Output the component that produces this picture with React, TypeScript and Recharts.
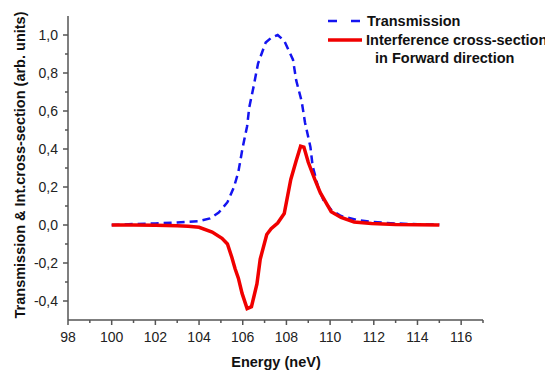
import React from "react";
import { LineChart, Line, XAxis, YAxis } from "recharts";

// energy (neV) / value pairs
const transEnergy = [100, 101, 102, 103, 104, 104.5, 104.9, 105.3, 105.6, 105.8, 106.0, 106.2, 106.3, 106.5, 106.7, 107.05, 107.3, 107.6, 107.9, 108.3, 108.45, 108.7, 108.85, 109.1, 109.2, 109.45, 109.7, 110.05, 110.5, 111.3, 111.9, 113, 114, 115];
const transValue = [0, 0.005, 0.008, 0.013, 0.02, 0.035, 0.065, 0.12, 0.2, 0.28, 0.41, 0.52, 0.62, 0.73, 0.85, 0.96, 0.985, 1.0, 0.97, 0.87, 0.76, 0.65, 0.54, 0.41, 0.31, 0.2, 0.13, 0.08, 0.047, 0.025, 0.016, 0.008, 0.004, 0.002];

const interEnergy = [100, 101, 102, 103, 103.5, 104, 104.6, 105.05, 105.3, 105.5, 105.65, 105.8, 105.97, 106.2, 106.4, 106.65, 106.8, 107.1, 107.3, 107.6, 107.9, 108.2, 108.45, 108.65, 108.8, 109.0, 109.3, 109.55, 110.05, 110.5, 111.1, 111.9, 113, 114, 115];
const interValue = [0, 0, -0.001, -0.004, -0.007, -0.012, -0.037, -0.07, -0.1, -0.17, -0.23, -0.28, -0.36, -0.44, -0.43, -0.31, -0.18, -0.05, -0.02, 0.01, 0.06, 0.24, 0.34, 0.415, 0.41, 0.33, 0.24, 0.17, 0.07, 0.04, 0.016, 0.008, 0.003, 0.001, 0];

const xTicks = [98, 99, 100, 101, 102, 103, 104, 105, 106, 107, 108, 109, 110, 111, 112, 113, 114, 115, 116, 117];
const yTicks = [-0.4, -0.3, -0.2, -0.1, 0, 0.1, 0.2, 0.3, 0.4, 0.5, 0.6, 0.7, 0.8, 0.9, 1.0];

const transData = transEnergy.map((e, i) => ({ e, v: transValue[i] }));
const interData = interEnergy.map((e, i) => ({ e, v: interValue[i] }));

const FONT = "'Liberation Sans', Arial, sans-serif";
const AXIS = "#555";

const XTick = (props: any) => {
  const { x, y, payload } = props;
  const major = payload.value % 2 === 0;
  return (
    <g>
      <line x1={x} x2={x} y1={y} y2={y + (major ? 5 : 3)} stroke={AXIS} strokeWidth={1.5} />
      {major && (
        <text x={x} y={y + 22} textAnchor="middle" fontSize={14} fontFamily={FONT} fill="#222">
          {payload.value}
        </text>
      )}
    </g>
  );
};

const YTick = (props: any) => {
  const { x, y, payload } = props;
  const major = Math.round(payload.value * 10) % 2 === 0;
  return (
    <g>
      <line x1={x} x2={x - (major ? 5 : 3)} y1={y} y2={y} stroke={AXIS} strokeWidth={1.5} />
      {major && (
        <text x={x - 10} y={y + 5} textAnchor="end" fontSize={14} fontFamily={FONT} fill="#222">
          {payload.value.toFixed(1).replace(".", ",")}
        </text>
      )}
    </g>
  );
};

export default function App() {
  return (
    <div style={{ position: "absolute", left: 0, top: 0, width: 545, height: 371, background: "#fff" }}>
      <LineChart width={545} height={371} margin={{ top: 16, right: 62, left: 0, bottom: 21 }}>
        <XAxis
          dataKey="e"
          type="number"
          domain={[98, 117]}
          ticks={xTicks}
          interval={0}
          tickSize={0}
          tickMargin={0}
          tickLine={false}
          tick={<XTick />}
          height={30}
          stroke={AXIS}
          strokeWidth={1.5}
          allowDataOverflow
        />
        <YAxis
          type="number"
          domain={[-0.5, 1.1]}
          ticks={yTicks}
          interval={0}
          tickSize={0}
          tickMargin={0}
          tickLine={false}
          tick={<YTick />}
          width={68}
          stroke={AXIS}
          strokeWidth={1.5}
          allowDataOverflow
        />
        <Line
          data={transData}
          dataKey="v"
          type="linear"
          stroke="#1414f0"
          strokeWidth={2.5}
          strokeDasharray="8 5"
          dot={false}
          isAnimationActive={false}
        />
        <Line
          data={interData}
          dataKey="v"
          type="linear"
          stroke="#f00000"
          strokeWidth={3.5}
          dot={false}
          isAnimationActive={false}
        />
      </LineChart>
      <svg width={545} height={371} style={{ position: "absolute", left: 0, top: 0, pointerEvents: "none" }}>
        <g fontFamily={FONT} fontWeight="bold" fontSize={14.5} fill="#111">
          <line x1={328} x2={361} y1={21} y2={21} stroke="#1414f0" strokeWidth={2.5} strokeDasharray="9 14" />
          <text x={367} y={26}>Transmission</text>
          <line x1={328} x2={362} y1={40} y2={40} stroke="#f00000" strokeWidth={3.5} />
          <text x={366} y={45}>Interference cross-section</text>
          <text x={375} y={63}>in Forward direction</text>
          <text x={276} y={367} textAnchor="middle">Energy (neV)</text>
          <text x={25} y={165} textAnchor="middle" transform="rotate(-90 25 165)">
            Transmission &amp; Int.cross-section (arb. units)
          </text>
        </g>
      </svg>
    </div>
  );
}
